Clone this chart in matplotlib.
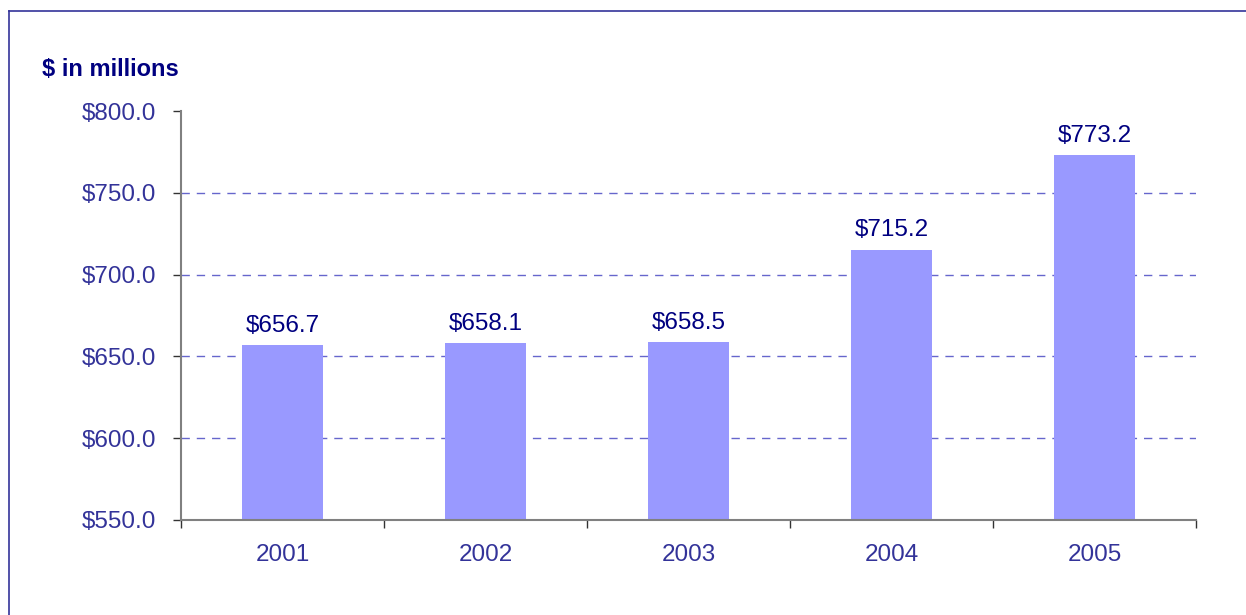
import numpy as np
import matplotlib.pyplot as plt
from matplotlib.lines import Line2D

years = ['2001', '2002', '2003', '2004', '2005']
values = [656.7, 658.1, 658.5, 715.2, 773.2]
y_ticks = [550, 600, 650, 700, 750, 800]

plt.rcParams['font.family'] = ['Liberation Sans', 'DejaVu Sans']

fig = plt.figure(figsize=(12.46, 6.15), dpi=100)
ax = fig.add_axes([181 / 1246, 95 / 615, 1015 / 1246, 409 / 615])

x = np.arange(len(years))
ax.bar(x, values, width=0.4, color='#9999ff', zorder=2)
ax.set_xlim(-0.5, len(years) - 0.5)
ax.set_ylim(550, 800)

ax.set_yticks(y_ticks)
ax.set_yticklabels([f'${v:.1f}' for v in y_ticks])
ax.set_xticks(x)
ax.set_xticklabels(years)
ax.set_xticks(np.arange(-0.5, len(years)), minor=True)
ax.tick_params(axis='x', which='major', length=0, pad=17, labelsize=17.5, labelcolor='#333399')
ax.tick_params(axis='x', which='minor', length=6, width=1, color='#333333', direction='out')
ax.tick_params(axis='y', length=6, width=1, color='#333333', pad=12, labelsize=17.5, labelcolor='#333399')

for v in y_ticks[1:-1]:
    ax.axhline(v, color='#6666cc', lw=1, ls=(0, (6, 5)), zorder=1)

for s in ['top', 'right']:
    ax.spines[s].set_visible(False)
for s in ['left', 'bottom']:
    ax.spines[s].set_color('#808080')
    ax.spines[s].set_linewidth(1.5)

for xi, v in zip(x, values):
    ax.annotate(f'${v:.1f}', (xi, v), xytext=(0, 6), textcoords='offset points',
                ha='center', va='bottom', fontsize=17.5, color='#000080')

fig.text(42 / 1246, 1 - 70 / 615, '$ in millions', fontsize=17, fontweight='bold',
         color='#000080', va='center', ha='left')

fig.add_artist(Line2D([9 / 1246, 9 / 1246], [0, 1 - 11 / 615], color='#333399', lw=1.2))
fig.add_artist(Line2D([9 / 1246, 1], [1 - 11 / 615, 1 - 11 / 615], color='#333399', lw=1.2))

fig.savefig('out.png', dpi=100)
